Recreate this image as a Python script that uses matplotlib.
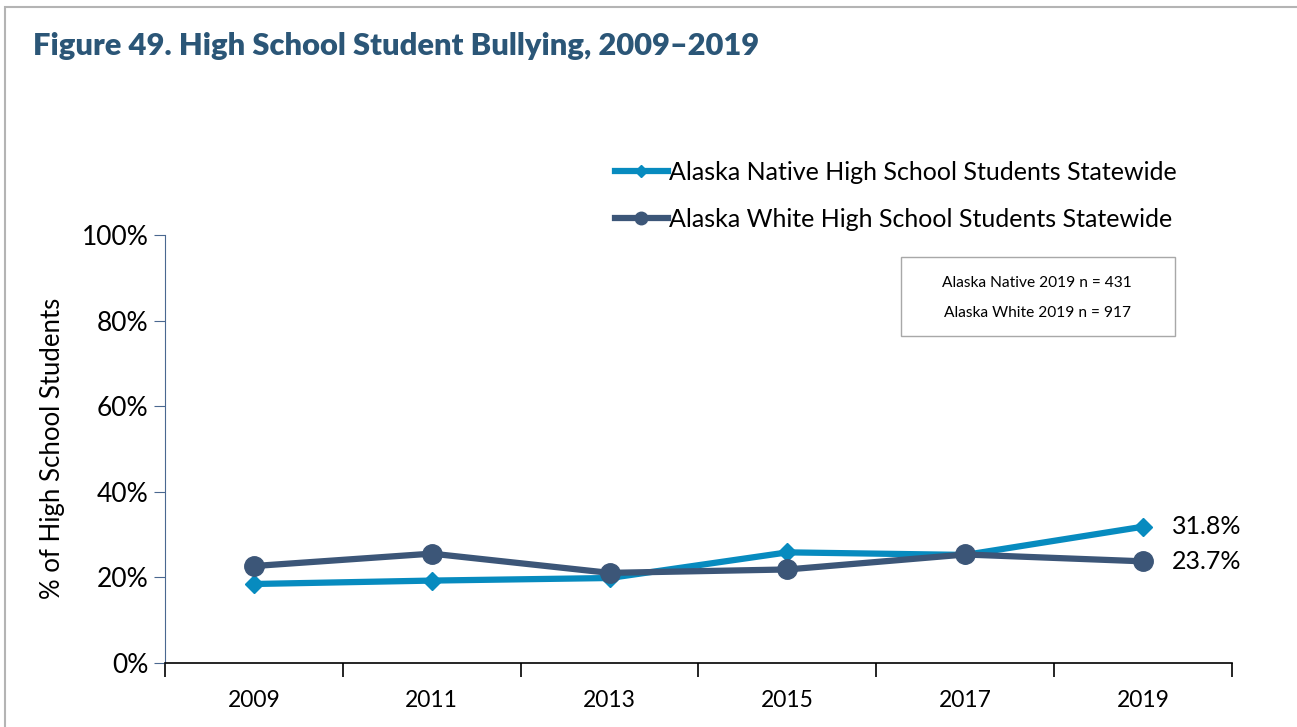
import matplotlib.pyplot as plt
from matplotlib.lines import Line2D
from matplotlib.patches import Rectangle

plt.rcParams['font.family'] = ['Lato', 'DejaVu Sans']

# ------------------------------------------------
# Data
# ------------------------------------------------
years = ['2009', '2011', '2013', '2015', '2017', '2019']
native = [18.4, 19.2, 19.8, 25.8, 25.2, 31.8]
white = [22.6, 25.5, 21.0, 21.8, 25.3, 23.7]
native_label = 'Alaska Native High School Students Statewide'
white_label = 'Alaska White High School Students Statewide'
n_notes = ['Alaska Native 2019 n = 431', 'Alaska White 2019 n = 917']
y_ticks = [0, 20, 40, 60, 80, 100]

c_native = '#078bbf'
c_white = '#3c5678'
c_title = '#2b5677'

W, H = 1297, 727
fig = plt.figure(figsize=(W / 100, H / 100), dpi=100)
ax = fig.add_axes([165 / W, 1 - 662.7 / H, (1232 - 165) / W, (662.7 - 235) / H])

# outer frame (only top and left edges are visible in the crop)
fig.patches.append(Rectangle((5 / W, -0.2), 1.2, 1.2 - 7 / H, transform=fig.transFigure,
                             fill=False, edgecolor='#b4b4b4', linewidth=1.5))

x = list(range(len(years)))
ax.plot(x, white, color=c_white, linewidth=4.5, marker='o', markersize=14, zorder=3)
ax.plot(x, native, color=c_native, linewidth=4.5, marker='D', markersize=9, zorder=2)

# end-point labels
ax.text(x[-1] + 0.16, native[-1], '%.1f%%' % native[-1], fontsize=18, va='center', ha='left')
ax.text(x[-1] + 0.16, white[-1], '%.1f%%' % white[-1], fontsize=18, va='center', ha='left')

ax.set_xlim(-0.5, len(years) - 0.5)
ax.set_ylim(0, 100)
ax.set_yticks(y_ticks)
ax.set_yticklabels(['%d%%' % v for v in y_ticks], fontsize=19)
ax.tick_params(axis='y', direction='out', length=8, color='#4a6890', pad=4)

ax.set_xticks([i - 0.5 for i in range(len(years) + 1)])
ax.set_xticklabels([])
ax.set_xticks(x, minor=True)
ax.set_xticklabels(years, minor=True, fontsize=16.5)
ax.tick_params(axis='x', which='major', direction='out', length=10, color='black', width=1.2)
ax.tick_params(axis='x', which='minor', length=0, pad=20)

for s in ['top', 'right']:
    ax.spines[s].set_visible(False)
ax.spines['left'].set_color('#4a6890')
ax.spines['bottom'].set_color('black')
ax.spines['bottom'].set_linewidth(1.2)

ax.set_ylabel('% of High School Students', fontsize=18.5, labelpad=12)

# title
fig.text(33 / W, 1 - 46 / H, 'Figure 49. High School Student Bullying, 2009\u20132019',
         fontsize=22.2, fontweight='heavy', color=c_title, va='center', ha='left')

# legend with small markers as in the reference
handles = [Line2D([], [], color=c_native, linewidth=4.5, marker='D', markersize=6),
           Line2D([], [], color=c_white, linewidth=4.5, marker='o', markersize=9)]
fig.legend(handles, [native_label, white_label], loc='upper left',
           bbox_to_anchor=(605 / W, 1 - 151 / H), frameon=False, fontsize=18,
           handlelength=2.1, handletextpad=0.05, labelspacing=0.95, borderaxespad=0)

# n box
fig.patches.append(Rectangle((901 / W, 1 - 336 / H), (1175 - 901) / W, (336 - 257) / H,
                             transform=fig.transFigure, fill=False,
                             edgecolor='#a8a8a8', linewidth=1))
fig.text(1037 / W, 1 - 283 / H, n_notes[0], fontsize=11.2, ha='center', va='center')
fig.text(1037 / W, 1 - 313 / H, n_notes[1], fontsize=11.2, ha='center', va='center')

fig.savefig('out.png', dpi=100)
